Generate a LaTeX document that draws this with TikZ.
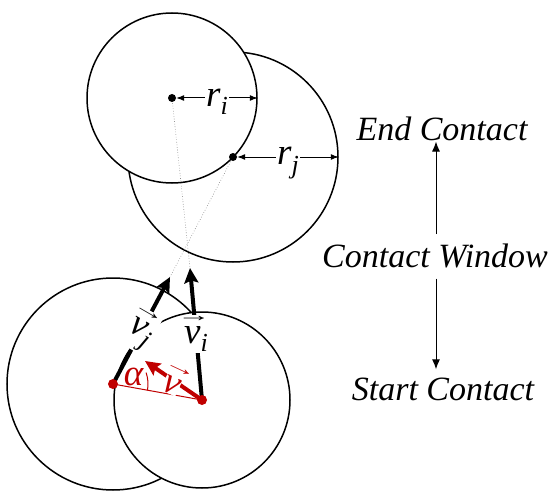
\documentclass[tikz,border=0pt]{standalone}
\usepackage{graphicx}
\usepackage{fontspec}
\setmainfont{Liberation Serif}
\usetikzlibrary{arrows.meta}
\definecolor{dred}{RGB}{192,0,0}
\newsavebox{\letterbox}
\newcommand{\arrv}[1]{\sbox{\letterbox}{\itshape #1}\usebox{\letterbox}\hspace{-\wd\letterbox}\makebox[\wd\letterbox]{\hspace{3pt}\raisebox{0.6em}{\makebox[0pt]{\scalebox{1.9}[1]{\fontsize{18}{18}\selectfont\upshape →}}}}}
\newcommand{\subx}[1]{\raisebox{-0.22em}{\fontsize{26}{26}\selectfont\itshape #1}}
\begin{document}
\begin{tikzpicture}[x=1pt,y=-1pt,
  big/.style={circle, draw, line width=1.5pt, fill=white, inner sep=0pt},
  bdot/.style={circle, fill=black, inner sep=0pt, minimum size=8pt},
  rdot/.style={circle, fill=dred, inner sep=0pt, minimum size=10pt},
  lbl/.style={font=\fontsize{37}{42}\selectfont, inner sep=1pt},
  ctext/.style={font=\fontsize{34}{40}\selectfont\itshape, anchor=base, inner sep=1pt},
  carr/.style={line width=1pt, -{Latex[length=10pt,width=8pt]}},
  rarr/.style={line width=1pt, {Latex[length=8pt,width=6pt]}-{Latex[length=8pt,width=6pt]}},
  varr/.style={line width=4pt, -{Stealth[length=15pt,width=14pt,inset=2.5pt]}},
  guide/.style={dotted, gray, line width=0.6pt}]
\useasboundingbox (0,0) rectangle (555,495);
% circles
\node[big, minimum size=210pt] (J) at (233,157) {};
\node[big, minimum size=170pt] (I) at (172,98) {};
\node[big, minimum size=212pt] (L) at (113,384) {};
\node[big, minimum size=176pt] (R) at (202,400) {};
% tips
\coordinate (ti) at (190,268);
\coordinate (tj) at (170,277);
\coordinate (tv) at (145,361);
% guides
\draw[guide] (I.center) -- (ti);
\draw[guide] (J.center) -- (tj);
% red construction
\draw[dred, line width=1pt] (L.center) -- (R.center);
\draw[dred, line width=1pt] (L.center) ++(10.2:35) arc[start angle=10.2, end angle=-19, radius=35];
\draw[varr, dred] (R.center) -- node[lbl, fill=white, text=dred, rotate=-25, inner sep=0pt] (nu) {\arrv{ν}} (tv);
\node[lbl, text=dred] (al) at (134,377) {\textit{α}};
% velocity arrows
\draw[varr] (R.center) -- node[lbl, fill=white] (vi) {\arrv{v}\subx{i}} (ti);
\draw[varr] (L.center) -- node[lbl, fill=white, rotate=-30] (vj) {\arrv{v}\subx{j}} (tj);
% dots
\node[rdot] (dl) at (L.center) {};
\node[rdot] (dr) at (R.center) {};
\node[bdot] (di) at (I.center) {};
\node[bdot] (dj) at (J.center) {};
% radii
\draw[rarr] (di.east) -- node[lbl, fill=white, yshift=-4pt] (ri) {\textit{r}\subx{i}} (I.east);
\draw[rarr] (dj.east) -- node[lbl, fill=white, yshift=-6pt] (rj) {\textit{r}\subx{j}} (J.east);
% contact window
\node[ctext] (ec) at (442,140) {End Contact};
\node[ctext] (cw) at (435,267) {Contact Window};
\node[ctext] (sc) at (443,400) {Start Contact};
\draw[carr, shorten <=8pt] ([xshift=1pt]cw.north) -- ([xshift=1pt]cw.north |- ec.south);
\draw[carr, shorten <=10pt, shorten >=7pt] ([xshift=1pt]cw.south) -- ([xshift=1pt]cw.south |- sc.north);
\end{tikzpicture}
\end{document}
